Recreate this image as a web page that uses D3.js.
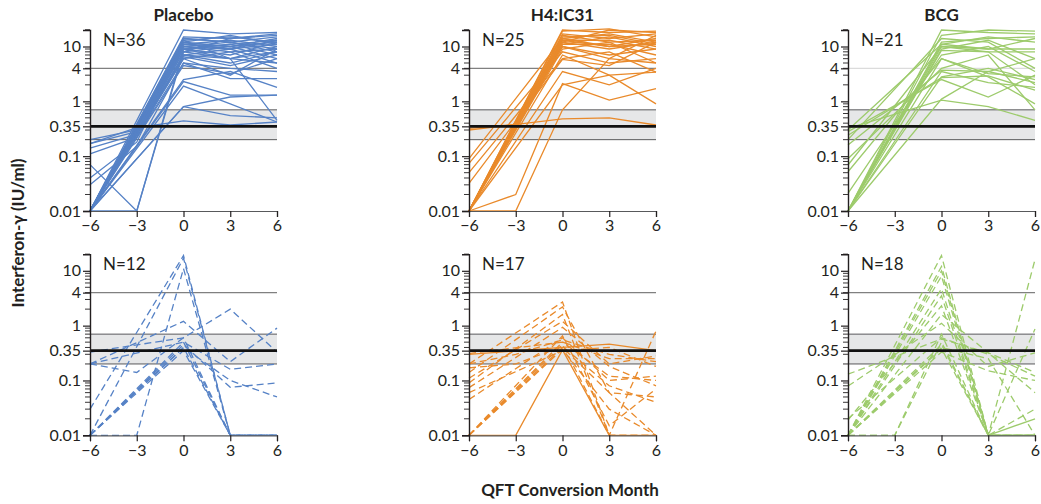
<!DOCTYPE html>
<html>
<head>
<meta charset="utf-8">
<script src="https://cdn.jsdelivr.net/npm/d3@7"></script>
<style>
  body { margin: 0; background: #fff; }
  svg { display: block; }
  text { font-family: Lato, "Open Sans", sans-serif; fill: #231f20; }
</style>
</head>
<body>
<svg id="chart" width="1041" height="504"></svg>
<script>
// ---------- data ----------
const months = [-6, -3, 0, 3, 6];
const xTickValues = [-6, -3, 0, 3, 6];
const yTickValues = [0.01, 0.1, 0.35, 1, 4, 10];
const yTickLabels = ["0.01", "0.1", "0.35", "1", "4", "10"];
const groupNames = ["Placebo", "H4:IC31", "BCG"];
const positivityBand = [0.2, 0.7];
const cutoff = 0.35;
const highLine = 4;

// values at months -6, -3, 0, 3, 6 (null = not measured)
const placeboSustained = [
  [0.01, null, 20, 17, 18], [0.01, null, 15, 14, 16], [0.01, null, 14, 12, 15],
  [0.01, null, 13, 15, 12], [0.01, null, 12, 10, 14], [0.01, null, 12, 16, 11],
  [0.01, null, 11, 9, 13], [0.01, null, 11, 13, 10], [0.01, null, 10, 8, 9],
  [0.01, null, 10, 12, 8], [0.01, null, 9, 11, 7], [0.01, null, 9, 7, 12],
  [0.01, null, 8, 6, 10], [0.01, null, 8, 10, 6], [0.01, null, 7, 5, 8],
  [0.01, null, 7, 9, 5], [0.01, null, 6.5, 4.5, 7], [0.01, null, 6, 3, 9],
  [0.01, null, 6, 8, 4], [0.01, 0.01, 9, 6, 5], [0.07, 0.01, 8, 14, 17],
  [0.2, 0.3, 10, 9, 11], [0.17, 0.28, 14, 12, 9], [0.14, 0.25, 9, 11, 13],
  [0.11, 0.22, 7, 6, 8], [0.04, 0.18, 11, 10, 12], [0.03, 0.15, 5, 4, 3.5],
  [0.01, null, 2.3, 1.3, 1.3], [0.01, null, 1.9, 0.9, 0.42], [0.01, null, 0.8, 1.2, 1.3],
  [0.17, 0.33, 0.44, 0.37, 0.42], [0.01, null, 0.8, 0.55, 0.5], [0.01, null, 2.5, 3.5, 1.8],
  [0.01, null, 5, 2.6, 2.6], [0.01, null, 4.5, 3.2, 6], [0.01, null, 13, 6, 0.45]
];
const placeboReverted = [
  [0.01, null, 17, 0.01, 0.01], [0.03, null, 19, 0.01, 0.01], [0.01, 0.01, 11, 0.01, 0.01],
  [0.33, null, 0.6, 2.0, 0.33], [0.2, null, 1.2, 0.22, 0.9], [0.2, null, 0.5, 0.16, 0.2],
  [0.01, null, 0.45, 0.075, 0.09], [0.01, null, 0.4, 0.1, 0.05], [0.01, null, 0.5, 0.01, 0.01],
  [0.01, null, 0.4, 0.01, 0.01], [0.01, null, 0.35, 0.01, 0.01], [0.2, 0.14, 0.6, 0.01, 0.01]
];
const h4Sustained = [
  [0.01, null, 20, 18, 19], [0.01, null, 19, 21, 15], [0.01, null, 17, 14, 17],
  [0.01, null, 16, 12, 13], [0.01, null, 15, 16, 11], [0.01, null, 14, 10, 14],
  [0.01, null, 13, 13, 9], [0.01, null, 12, 9, 12], [0.01, null, 11, 15, 10],
  [0.01, null, 11, 11, 7], [0.01, null, 10, 6, 16], [0.01, null, 9, 12, 5],
  [0.074, null, 8, 5, 6], [0.05, null, 6, 8, 3.4], [0.032, null, 5.8, 4.5, 12],
  [0.32, 0.38, 13, 10, 11], [0.09, null, 14, 17, 12], [0.01, null, 3.5, 2.0, 4],
  [0.01, null, 2.0, 3.0, 3.4], [0.01, 0.02, 2.1, 1.05, 1.7], [0.01, 0.01, 0.7, 6, 5],
  [0.3, null, 0.48, 0.5, 0.37], [0.01, null, 7, 3.0, 0.9], [0.01, null, 12, 20, 18],
  [0.01, null, 10, 7, 9]
];
const h4Reverted = [
  [0.01, 0.01, 0.36, 0.01, 0.01], [0.3, null, 0.4, 0.46, 0.35], [0.2, null, 2.7, 0.01, 0.01],
  [0.14, null, 2.2, 0.06, 0.01], [0.09, null, 1.6, 0.01, 0.8], [0.074, null, 0.93, 0.18, 0.08],
  [0.045, null, 0.6, 0.1, 0.12], [0.01, null, 0.5, 0.25, 0.25], [0.01, null, 0.45, 0.01, 0.01],
  [0.01, null, 0.4, 0.06, 0.05], [0.2, 0.3, 0.55, 0.3, 0.22], [0.01, null, 0.37, 0.03, 0.01],
  [0.31, null, 0.5, 0.12, 0.1], [0.11, null, 1.2, 0.2, 0.28], [0.01, null, 0.65, 0.015, 0.07],
  [0.17, 0.2, 0.42, 0.08, 0.04], [0.06, null, 0.35, 0.4, 0.18]
];
const bcgSustained = [
  [0.01, null, 20, 18, 17], [0.01, null, 16, 20, 19], [0.01, null, 12, 14, 15],
  [0.01, null, 11, 15, 12], [0.01, null, 10, 9, 9], [0.01, null, 9, 13, 6],
  [0.01, null, 8.5, 8, 8], [0.021, null, 7, 10, 3.5], [0.052, null, 6, 3.2, 2.8],
  [0.069, null, 10, 8, 2.0], [0.09, null, 4, 7, 0.7], [0.16, null, 3.7, 3.5, 2.2],
  [0.24, null, 2.7, 2.9, 1.6], [0.28, null, 2.5, 1.2, 3.0], [0.32, null, 1.05, 0.8, 0.45],
  [0.01, null, 1.1, 3.5, 6], [0.01, null, 6, 2.8, 0.9], [0.01, null, 2.8, 4, 2.5],
  [0.3, null, 11, 9, 14], [0.01, null, 3.5, 2.2, 1.8], [0.2, null, 14, 12, 4]
];
const bcgReverted = [
  [0.01, null, 19, 0.01, 16], [0.01, null, 12, 0.01, 0.01], [0.01, null, 10, 0.01, 0.01],
  [0.01, null, 8, 0.01, 0.01], [0.01, null, 4.7, 0.01, 0.87], [0.01, null, 3.5, 0.01, 0.01],
  [0.019, null, 2.3, 0.01, 0.03], [0.01, null, 1.6, 0.32, 0.14], [0.079, null, 1.1, 0.18, 0.32],
  [0.13, null, 0.57, 0.32, 0.06], [0.01, 0.01, 0.5, 0.01, 0.01], [0.01, null, 0.45, 0.01, 0.01],
  [0.01, null, 0.4, 0.25, 0.01], [0.01, null, 0.38, 0.01, 0.01], [0.01, 0.01, 0.7, 0.01, 0.01],
  [0.01, null, 0.33, 0.15, 0.1], [0.02, null, 0.6, 0.3, 0.12], [null, null, null, 0.01, 0.02]
];
// series of the reversion row that are drawn solid
const h4RevertedSolid = [0, 1];
const bcgRevertedSolid = [17];

const groupColors = ["#5682c6", "#e98a2b", "#9dcb6c"];

// ---------- layout ----------
const svg = d3.select("#chart");
const panelLeft = [90, 469, 848];
const panelWidth = 187;
const rowTop = [30, 254.3];
const panelHeight = 181;

const panels = [
  { col: 0, row: 0, data: placeboSustained, dashed: false, solid: [] },
  { col: 1, row: 0, data: h4Sustained, dashed: false, solid: [] },
  { col: 2, row: 0, data: bcgSustained, dashed: false, solid: [] },
  { col: 0, row: 1, data: placeboReverted, dashed: true, solid: [] },
  { col: 1, row: 1, data: h4Reverted, dashed: true, solid: h4RevertedSolid },
  { col: 2, row: 1, data: bcgReverted, dashed: true, solid: bcgRevertedSolid }
];

const minorTicks = [];
[0.01, 0.1, 1, 10].forEach(d => { for (let k = 2; k <= 9; k++) { const v = d * k; if (v <= 20) minorTicks.push(v); } });
minorTicks.push(20);

panels.forEach(p => {
  const x0 = panelLeft[p.col], y0 = rowTop[p.row];
  const x = d3.scaleLinear().domain([-6, 6]).range([x0, x0 + panelWidth]);
  const y = d3.scaleLog().domain([0.01, 20]).range([y0 + panelHeight, y0]);
  const g = svg.append("g");
  const xr = x0 + panelWidth;

  // positivity band
  g.append("rect")
    .attr("x", x0).attr("width", panelWidth)
    .attr("y", y(positivityBand[1])).attr("height", y(positivityBand[0]) - y(positivityBand[1]))
    .attr("fill", "#e6e7e8");
  positivityBand.forEach(v => {
    g.append("line").attr("x1", x0).attr("x2", xr).attr("y1", y(v)).attr("y2", y(v))
      .attr("stroke", "#58595b").attr("stroke-width", 1);
  });
  g.append("line").attr("x1", x0).attr("x2", xr).attr("y1", y(highLine)).attr("y2", y(highLine))
    .attr("stroke", p.col === 2 && p.row === 0 ? "#c8c8c8" : "#808080").attr("stroke-width", p.col === 2 && p.row === 0 ? 0.8 : 1.2);

  // data lines
  const line = d3.line().x(d => x(d.m)).y(d => y(d.v));
  const lg = g.append("g");
  p.data.forEach((s, i) => {
    const pts = months.map((m, j) => ({ m, v: s[j] })).filter(d => d.v != null);
    const isDashed = p.dashed && !p.solid.includes(i);
    lg.append("path").attr("d", line(pts))
      .attr("fill", "none").attr("stroke", groupColors[p.col])
      .attr("stroke-width", 1.3)
      .attr("stroke-dasharray", isDashed ? "7,4" : null);
  });

  // cutoff line
  g.append("line").attr("x1", x0).attr("x2", xr).attr("y1", y(cutoff)).attr("y2", y(cutoff))
    .attr("stroke", "#111").attr("stroke-width", 2.6);

  // x axis
  const xa = g.append("g").attr("transform", `translate(0,${y0 + panelHeight})`)
    .call(d3.axisBottom(x).tickValues(xTickValues).tickSize(6).tickPadding(3)
      .tickFormat(d => d < 0 ? "\u2212" + Math.abs(d) : d));
  xa.select(".domain").attr("stroke", "#58595b").attr("stroke-width", 1.2);
  xa.selectAll(".tick line").attr("stroke", "#231f20").attr("stroke-width", 1.2);
  xa.selectAll("text").style("font-size", "16px").attr("fill", "#231f20");

  // y axis minor ticks
  g.append("g").selectAll("line").data(minorTicks).join("line")
    .attr("x1", x0 - 5).attr("x2", x0).attr("y1", d => y(d)).attr("y2", d => y(d))
    .attr("stroke", "#231f20").attr("stroke-width", 0.9);
  const ya = g.append("g").attr("transform", `translate(${x0},0)`)
    .call(d3.axisLeft(y).tickValues(yTickValues).tickSize(7).tickPadding(2)
      .tickFormat((d, i) => yTickLabels[i]));
  ya.select(".domain").attr("stroke", "#231f20").attr("stroke-width", 1.4);
  ya.selectAll(".tick line").attr("stroke", "#231f20").attr("stroke-width", 1.2);
  ya.selectAll("text").style("font-size", "16px").attr("fill", "#231f20");

  // N label
  g.append("text").attr("x", x0 + 13).attr("y", y0 + 16)
    .style("font-size", "17px").text("N=" + p.data.length);

  if (p.row === 0) {
    g.append("text").attr("x", x0 + panelWidth / 2).attr("y", 21)
      .attr("text-anchor", "middle").style("font-size", "17px").style("font-weight", "bold")
      .text(groupNames[p.col]);
  }
});

svg.append("text").attr("transform", "translate(24,233) rotate(-90)")
  .attr("text-anchor", "middle").style("font-size", "17px").style("font-weight", "bold")
  .text("Interferon-\u03b3 (IU/ml)");
svg.append("text").attr("x", 570).attr("y", 496)
  .attr("text-anchor", "middle").style("font-size", "17px").style("font-weight", "bold")
  .text("QFT Conversion Month");
</script>
</body>
</html>
